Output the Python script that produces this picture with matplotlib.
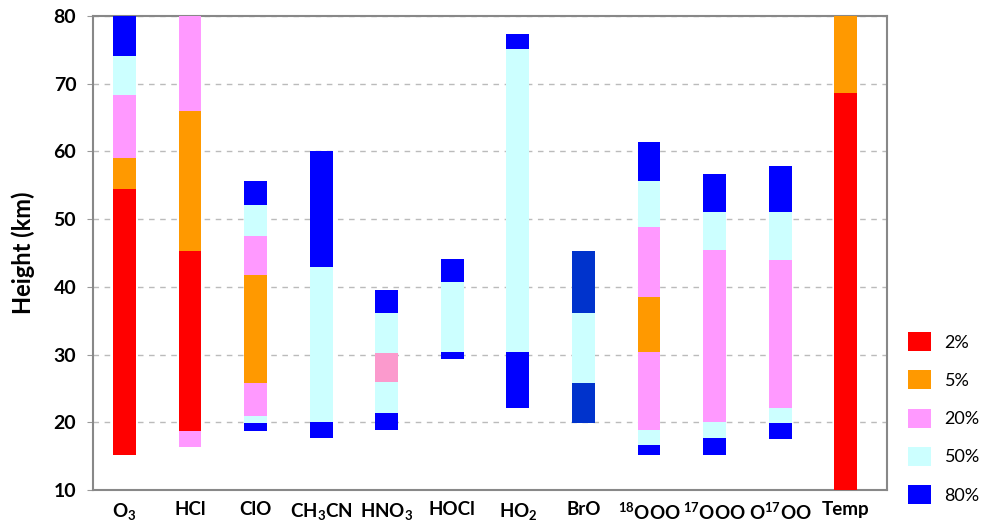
import matplotlib
matplotlib.use("Agg")
import matplotlib.pyplot as plt
from matplotlib.patches import Patch

plt.rcParams['font.family'] = ['Lato', 'DejaVu Sans']
plt.rcParams['mathtext.fontset'] = 'custom'
plt.rcParams['mathtext.rm'] = 'Lato:bold'
plt.rcParams['mathtext.it'] = 'Lato:bold'
plt.rcParams['mathtext.bf'] = 'Lato:bold'

species = ['O$_3$', 'HCl', 'ClO', 'CH$_3$CN', 'HNO$_3$', 'HOCl', 'HO$_2$', 'BrO',
           '$^{18}$OOO', '$^{17}$OOO', 'O$^{17}$OO', 'Temp']

# segment boundaries (km) and the accuracy level of each segment, bottom to top
edges = [
    [15.2, 54.4, 59.0, 68.3, 74.1, 80.0],
    [16.4, 18.7, 45.3, 66.0, 80.0],
    [18.7, 19.9, 20.9, 25.8, 41.8, 47.5, 52.1, 55.6],
    [17.7, 20.1, 43.0, 60.1],
    [18.9, 21.3, 25.9, 30.3, 36.2, 39.5],
    [29.4, 30.4, 40.7, 44.1],
    [22.1, 30.4, 75.1, 77.4],
    [19.9, 25.8, 36.1, 45.3],
    [15.2, 16.6, 18.9, 30.4, 38.5, 48.8, 55.7, 61.4],
    [15.2, 17.7, 20.1, 45.5, 51.0, 56.7],
    [17.5, 19.9, 22.1, 44.0, 51.0, 57.9],
    [10.0, 68.6, 80.0],
]
levels = [
    ['2%', '5%', '20%', '50%', '80%'],
    ['20%', '2%', '5%', '20%'],
    ['80%', '50%', '20%', '5%', '20%', '50%', '80%'],
    ['80%', '50%', '80%'],
    ['80%', '50%', '20%b', '50%', '80%'],
    ['80%', '50%', '80%'],
    ['80%', '50%', '80%'],
    ['80%b', '50%', '80%b'],
    ['80%', '50%', '20%', '5%', '20%', '50%', '80%'],
    ['80%', '50%', '20%', '50%', '80%'],
    ['80%', '50%', '20%', '50%', '80%'],
    ['2%', '5%'],
]

legend_levels = ['2%', '5%', '20%', '50%', '80%']
colors = {'2%': '#ff0000', '5%': '#ff9900', '20%': '#ff99ff', '50%': '#ccffff',
          '80%': '#0000ff', '20%b': '#fb9acd', '80%b': '#0033cc'}

fig = plt.figure(figsize=(9.88, 5.23), dpi=100)
ax = fig.add_axes([0.0941, 0.0631, 0.8037, 0.9063])

for i, (e, lv) in enumerate(zip(edges, levels)):
    for lo, hi, l in zip(e[:-1], e[1:], lv):
        ax.bar(i, hi - lo, bottom=lo, width=0.35, color=colors[l], zorder=3, linewidth=0)

ax.set_xlim(-0.48, 11.63)
ax.set_ylim(10, 80)
ax.set_yticks(range(10, 81, 10))
ax.set_xticks(range(len(species)))
ax.set_xticklabels(species, fontsize=13.5, fontweight='bold')
for t in ax.get_yticklabels():
    t.set_fontsize(14)
    t.set_fontweight('bold')
ax.tick_params(axis='x', length=0, pad=8)
ax.tick_params(axis='y', length=4, color='#999999', pad=8)
ax.set_ylabel('Height (km)', fontsize=17, fontweight='bold', labelpad=13)

ax.yaxis.grid(True, linestyle=(0, (4, 4)), color='#bbbbbb', linewidth=1, zorder=0)
for s in ax.spines.values():
    s.set_color('#888888')
    s.set_linewidth(1.5)

handles = [Patch(facecolor=colors[l], edgecolor='none') for l in legend_levels]
fig.legend(handles, legend_levels, loc='upper left', bbox_to_anchor=(0.919, 0.365),
           frameon=False, fontsize=13, handlelength=1.25, handleheight=1.25,
           handletextpad=0.78, labelspacing=1.06, borderpad=0, borderaxespad=0)

fig.savefig('out.png', dpi=100)
